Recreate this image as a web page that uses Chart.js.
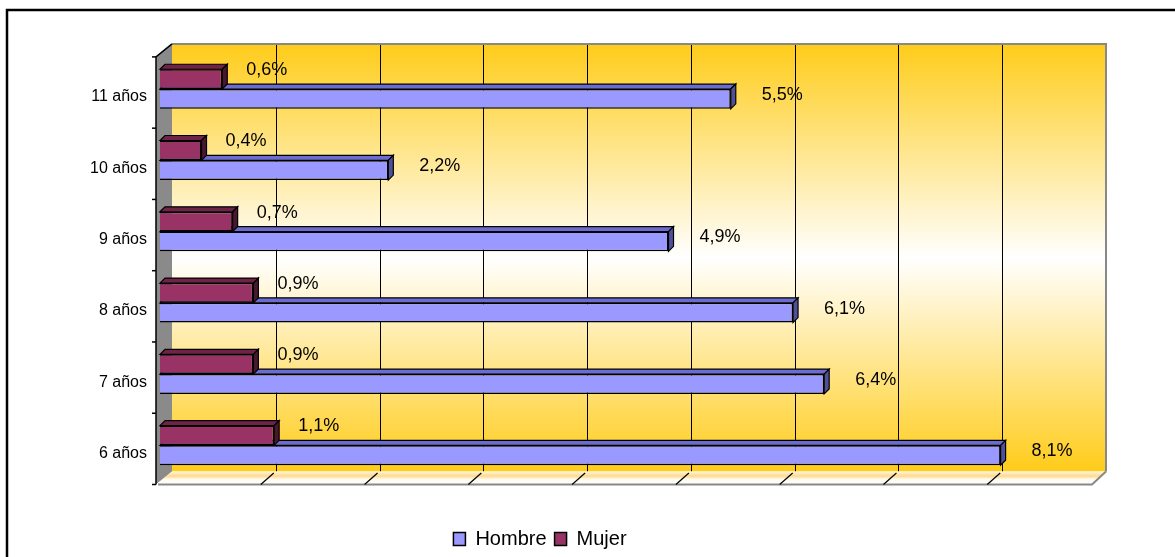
<!DOCTYPE html>
<html lang="es">
<head>
  <meta charset="UTF-8" />
  <title>Porcentaje por edad y sexo</title>
  <script src="https://cdn.jsdelivr.net/npm/chart.js"></script>
  <style>
    html, body {
      margin: 0;
      padding: 0;
      background: #fff;
    }
    #chart-container {
      width: 1175px;
      height: 557px;
    }
  </style>
</head>
<body>
  <div id="chart-container">
    <canvas id="barChart"></canvas>
  </div>

  <script>
    // datos (en %)
    const edades = ['11 años', '10 años', '9 años', '8 años', '7 años', '6 años'];
    const hombre = [5.5, 2.2, 4.9, 6.1, 6.4, 8.1];
    const mujer = [0.6, 0.4, 0.7, 0.9, 0.9, 1.1];
    const ejeMax = 9;

    // efecto 3D tipo Excel
    const fondo = { dx: 12, dy: -9.5 };   // pared del fondo respecto al plano de las barras
    const frente = { dx: -4, dy: 3.5 };   // eje frontal
    const prof = { dx: 5, dy: 5 };        // profundidad de cada barra

    const caras = [
      { top: '#6f2447', side: '#4a1730' },  // Mujer
      { top: '#6c6cd0', side: '#505098' }   // Hombre
    ];

    const fmt = v => v.toFixed(1).replace('.', ',') + '%';

    const escena3d = {
      id: 'escena3d',
      beforeDraw(chart) {
        const { ctx, width, height } = chart;
        ctx.save();
        ctx.fillStyle = '#fff';
        ctx.fillRect(0, 0, width, height);
        ctx.strokeStyle = '#000';
        ctx.lineWidth = 2.5;
        ctx.strokeRect(7, 10, width + 20, height + 20);
        ctx.restore();
      },
      beforeDatasetsDraw(chart) {
        const { ctx, chartArea: a, scales: { x } } = chart;
        const wl = a.left + fondo.dx, wr = a.right + fondo.dx;
        const wt = a.top + fondo.dy, wb = a.bottom + fondo.dy;
        const fl = a.left + frente.dx, ft = a.top + frente.dy, fb = a.bottom + frente.dy;
        const fr = a.right - 2;
        ctx.save();

        // pared del fondo
        const g = ctx.createLinearGradient(0, wt, 0, wb);
        g.addColorStop(0, '#ffcc1a');
        g.addColorStop(0.5, '#ffffff');
        g.addColorStop(1, '#ffcc1a');
        ctx.fillStyle = g;
        ctx.fillRect(wl, wt, wr - wl, wb - wt);

        // líneas de división
        ctx.strokeStyle = '#000';
        ctx.lineWidth = 1;
        x.ticks.forEach(t => {
          if (t.value <= 0 || t.value >= ejeMax) return;
          const px = Math.round(x.getPixelForValue(t.value) + fondo.dx) + 0.5;
          ctx.beginPath();
          ctx.moveTo(px, wt);
          ctx.lineTo(px, wb);
          ctx.stroke();
        });

        // borde gris de la pared
        ctx.strokeStyle = '#888';
        ctx.lineWidth = 2;
        ctx.beginPath();
        ctx.moveTo(wl, wt);
        ctx.lineTo(wr, wt);
        ctx.lineTo(wr, wb);
        ctx.stroke();

        // pared lateral
        ctx.fillStyle = '#8a8a8a';
        ctx.beginPath();
        ctx.moveTo(fl, ft);
        ctx.lineTo(wl, wt);
        ctx.lineTo(wl, wb);
        ctx.lineTo(fl, fb);
        ctx.closePath();
        ctx.fill();

        // piso
        const gp = ctx.createLinearGradient(0, wb, 0, fb);
        gp.addColorStop(0, '#fff6e0');
        gp.addColorStop(0.35, '#ffd98a');
        gp.addColorStop(0.6, '#fffaf0');
        gp.addColorStop(1, '#ffffff');
        ctx.fillStyle = gp;
        ctx.beginPath();
        ctx.moveTo(fl, fb);
        ctx.lineTo(fr, fb);
        ctx.lineTo(wr, wb);
        ctx.lineTo(wl, wb);
        ctx.closePath();
        ctx.fill();
        ctx.strokeStyle = '#888';
        ctx.lineWidth = 2;
        ctx.beginPath();
        ctx.moveTo(fl + 2, fb);
        ctx.lineTo(fr, fb);
        ctx.lineTo(wr, wb);
        ctx.stroke();

        // marcas diagonales del piso
        ctx.strokeStyle = '#000';
        ctx.lineWidth = 1.2;
        x.ticks.forEach(t => {
          if (t.value <= 0 || t.value >= ejeMax) return;
          const px = x.getPixelForValue(t.value);
          ctx.beginPath();
          ctx.moveTo(px + fondo.dx - 2, wb + 1.5);
          ctx.lineTo(px - 3, fb);
          ctx.stroke();
        });

        // eje de categorías frontal
        ctx.strokeStyle = '#000';
        ctx.lineWidth = 1.5;
        ctx.beginPath();
        ctx.moveTo(wl, wt);
        ctx.lineTo(fl, ft);
        ctx.lineTo(fl, fb);
        ctx.stroke();
        const paso = (a.bottom - a.top) / edades.length;
        for (let k = 0; k <= edades.length; k++) {
          const py = ft + k * paso;
          ctx.beginPath();
          ctx.moveTo(fl - 4, py);
          ctx.lineTo(fl, py);
          ctx.stroke();
        }

        // caras superior y lateral de las barras (Hombre primero)
        ctx.lineWidth = 1.2;
        ctx.strokeStyle = '#000';
        for (let i = chart.data.datasets.length - 1; i >= 0; i--) {
          chart.getDatasetMeta(i).data.forEach(bar => {
            const { x: x1, y, base: x0, height: h } = bar.getProps(['x', 'y', 'base', 'height'], true);
            const top = y - h / 2, bot = y + h / 2;
            ctx.fillStyle = caras[i].top;
            ctx.beginPath();
            ctx.moveTo(x0, top);
            ctx.lineTo(x0 + prof.dx, top - prof.dy);
            ctx.lineTo(x1 + prof.dx, top - prof.dy);
            ctx.lineTo(x1, top);
            ctx.closePath();
            ctx.fill();
            ctx.stroke();
            ctx.fillStyle = caras[i].side;
            ctx.beginPath();
            ctx.moveTo(x1, top);
            ctx.lineTo(x1 + prof.dx, top - prof.dy);
            ctx.lineTo(x1 + prof.dx, bot - prof.dy);
            ctx.lineTo(x1, bot);
            ctx.closePath();
            ctx.fill();
            ctx.stroke();
          });
        }
        ctx.restore();
      },
      afterDatasetsDraw(chart) {
        // etiquetas de datos
        const { ctx } = chart;
        const sep = [24, 31];   // Mujer, Hombre
        const sube = [9, 4];
        ctx.save();
        ctx.font = '18px "Liberation Sans", Arial, sans-serif';
        ctx.fillStyle = '#000';
        ctx.textAlign = 'left';
        ctx.textBaseline = 'middle';
        chart.data.datasets.forEach((ds, i) => {
          chart.getDatasetMeta(i).data.forEach((bar, j) => {
            ctx.fillText(fmt(ds.data[j]), bar.x + sep[i], bar.y - sube[i]);
          });
        });
        ctx.restore();
      }
    };

    Chart.defaults.font.family = '"Liberation Sans", Arial, sans-serif';
    Chart.defaults.color = '#000';

    const ctx = document.getElementById('barChart').getContext('2d');
    const chart = new Chart(ctx, {
      type: 'bar',
      data: {
        labels: edades,
        datasets: [
          {
            label: 'Mujer',
            data: mujer,
            backgroundColor: '#993366',
            borderColor: '#000',
            borderWidth: 1.5,
            categoryPercentage: 0.555,
            barPercentage: 1.0
          },
          {
            label: 'Hombre',
            data: hombre,
            backgroundColor: '#9999ff',
            borderColor: '#000',
            borderWidth: 1.5,
            categoryPercentage: 0.555,
            barPercentage: 1.0
          }
        ]
      },
      options: {
        indexAxis: 'y',
        responsive: true,
        maintainAspectRatio: false,
        animation: false,
        layout: {
          padding: { top: 53.4, right: 81, bottom: 6, left: -14 }
        },
        scales: {
          x: {
            min: 0,
            max: ejeMax,
            ticks: { display: false, stepSize: 1 },
            grid: { display: false },
            border: { display: false },
            afterFit: s => { s.height = 40; }
          },
          y: {
            ticks: { font: { size: 16 }, padding: 13, labelOffset: 8 },
            grid: { display: false, drawTicks: false },
            border: { display: false },
            afterFit: s => { s.width = 174; }
          }
        },
        plugins: {
          legend: {
            position: 'bottom',
            maxHeight: 30,
            labels: {
              font: { size: 20 },
              boxWidth: 12,
              boxHeight: 13,
              padding: 8,
              sort: (a, b) => b.datasetIndex - a.datasetIndex
            }
          },
          tooltip: { enabled: false }
        }
      },
      plugins: [escena3d]
    });
  </script>
</body>
</html>
